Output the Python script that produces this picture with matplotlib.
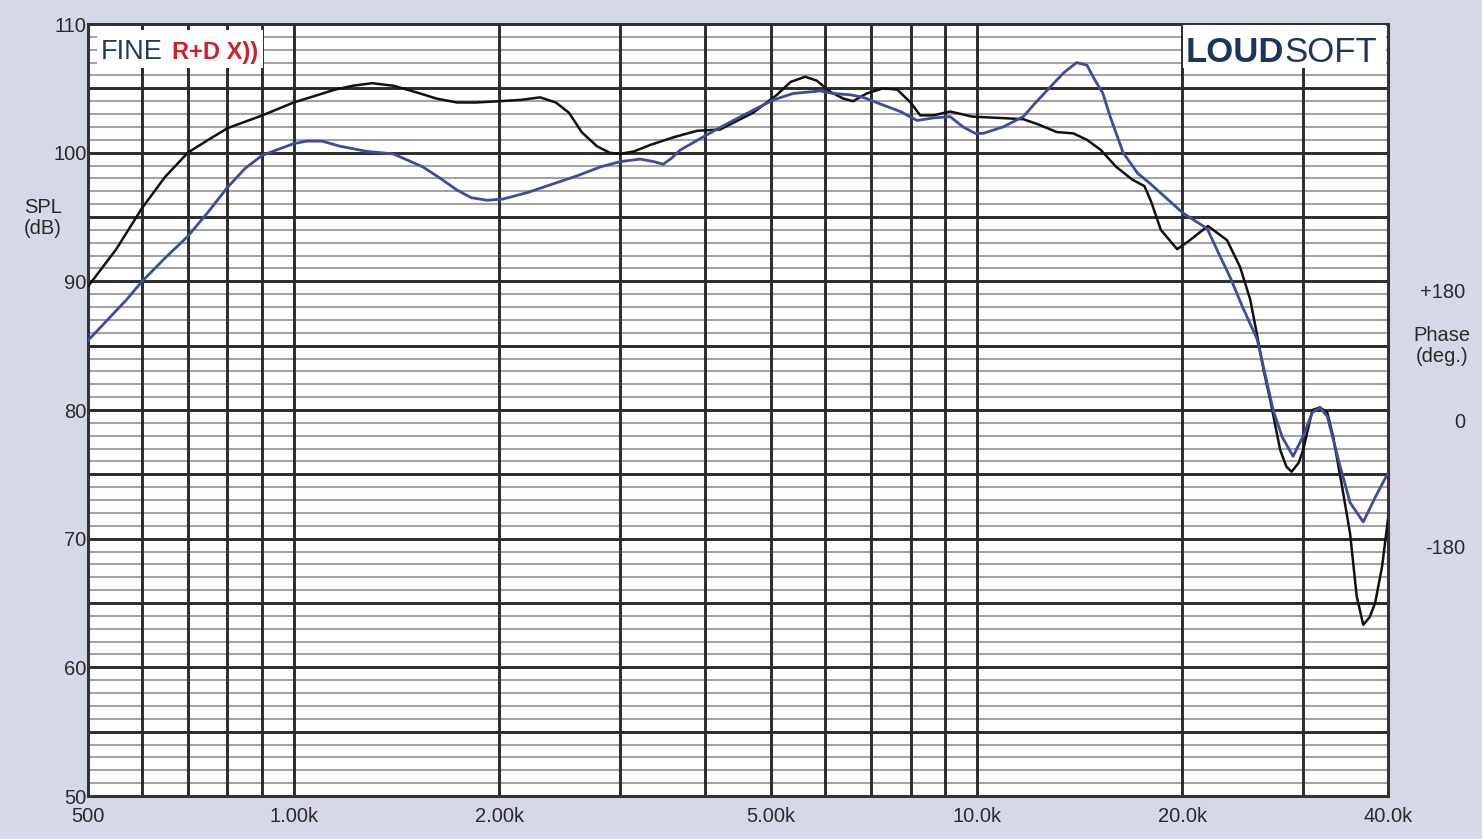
import matplotlib
matplotlib.use("Agg")
import matplotlib.pyplot as plt
from matplotlib.patches import Rectangle
from matplotlib.text import Annotation

plt.rcParams['font.family'] = ['Liberation Sans', 'DejaVu Sans']

# SPL response, black curve (Hz, dB)
black_hz = [500, 550, 600, 648, 700, 750, 800, 900, 1000, 1150, 1220, 1303,
            1400, 1510, 1620, 1734, 1850, 2000, 2150, 2295, 2420, 2530, 2640,
            2780, 2900, 3005, 3150, 3327, 3600, 3897, 4210, 4705, 5100, 5340,
            5608, 5830, 6120, 6380, 6590, 6900, 7293, 7650, 8000, 8266, 8640,
            9144, 9850, 10800, 11700, 12300, 13100, 13845, 14500, 15200, 16000,
            16900, 17600, 18000, 18600, 19650, 20400, 21800, 23250, 24300,
            25135, 25735, 26300, 26885, 27810, 28400, 28900, 29600, 30050,
            31000, 31800, 32600, 33250, 34200, 35200, 36000, 36800, 37600,
            38300, 39200, 40000]
black_db = [89.6, 92.5, 95.7, 98.1, 100.0, 101.0, 101.9, 102.9, 103.9, 104.9,
            105.2, 105.4, 105.2, 104.7, 104.2, 103.9, 103.9, 104.0, 104.1, 104.3,
            103.9, 103.1, 101.6, 100.5, 100.0, 99.9, 100.1, 100.6, 101.2, 101.7,
            101.8, 103.1, 104.5, 105.5, 105.9, 105.6, 104.7, 104.2, 104.0, 104.6,
            105.0, 104.9, 103.9, 102.9, 102.9, 103.2, 102.8, 102.7, 102.6, 102.2,
            101.6, 101.5, 101.0, 100.2, 98.9, 97.9, 97.4, 96.2, 94.0, 92.5, 93.1,
            94.3, 93.2, 91.1, 88.6, 85.8, 83.1, 80.8, 76.9, 75.6, 75.2, 75.9,
            76.9, 80.0, 80.2, 79.8, 77.9, 74.3, 70.4, 65.5, 63.3, 63.9, 65.0,
            67.8, 71.5]

# SPL response, blue curve (Hz, dB)
blue_hz = [500, 570, 600, 648, 700, 750, 800, 850, 900, 1000, 1046, 1100, 1169,
           1280, 1400, 1545, 1640, 1734, 1820, 1920, 2026, 2200, 2375, 2600,
           2815, 3005, 3215, 3370, 3477, 3580, 3680, 4030, 4400, 4705, 5035,
           5385, 5897, 6162, 6527, 6819, 7293, 7727, 8180, 8637, 9144, 9550,
           9946, 10220, 10930, 11700, 12200, 12810, 13400, 14000, 14500, 14800,
           15300, 15680, 16380, 17200, 17940, 20050, 21745, 22500, 23500, 24500,
           25735, 27165, 28000, 29050, 30000, 31000, 31800, 32600, 34050, 35200,
           36800, 38300, 40000]
blue_db = [85.4, 88.6, 90.0, 91.8, 93.5, 95.4, 97.3, 98.8, 99.8, 100.7, 100.9,
           100.9, 100.5, 100.1, 99.9, 98.9, 98.0, 97.1, 96.5, 96.3, 96.4, 96.9,
           97.5, 98.2, 98.9, 99.3, 99.5, 99.3, 99.1, 99.6, 100.2, 101.4, 102.5,
           103.3, 104.1, 104.6, 104.8, 104.6, 104.5, 104.3, 103.7, 103.2, 102.5,
           102.7, 102.8, 102.0, 101.5, 101.5, 102.0, 102.8, 103.9, 105.1, 106.2,
           107.0, 106.8, 105.9, 104.6, 102.8, 100.0, 98.4, 97.6, 95.3, 94.1, 92.4,
           90.3, 88.0, 85.5, 80.0, 77.9, 76.4, 77.9, 79.8, 80.2, 79.5, 75.6, 72.8,
           71.3, 73.2, 75.1]

x_ticks = [500, 1000, 2000, 5000, 10000, 20000, 40000]
x_labels = ['500', '1.00k', '2.00k', '5.00k', '10.0k', '20.0k', '40.0k']
y_ticks = [50, 60, 70, 80, 90, 100, 110]
grid_hz = [600, 700, 800, 900, 1000, 2000, 3000, 4000, 5000, 6000, 7000,
           8000, 9000, 10000, 20000, 30000]

W, H = 1482, 839
bg = '#d5d9e7'
txt = '#2a2a2a'
fig = plt.figure(figsize=(W / 100, H / 100), dpi=100, facecolor=bg)
ax = fig.add_axes([88 / W, 1 - 796 / H, 1300 / W, 772 / H])
ax.set_xscale('log')
ax.set_xlim(500, 40000)
ax.set_ylim(50, 110)

# grid: thin grey every 1 dB, dark every 5 dB, dark verticals
for v in range(51, 110):
    if v % 5:
        ax.axhline(v, color='#a3a3a3', lw=1.5, zorder=1)
for v in range(55, 110, 5):
    ax.axhline(v, color='#2b2b2b', lw=2.1, zorder=2)
for f in grid_hz:
    ax.axvline(f, color='#2b2b2b', lw=2.1, zorder=2)

ax.plot(black_hz, black_db, color='#111111', lw=1.8, zorder=4,
        solid_joinstyle='round')
ax.plot(blue_hz, blue_db, color='#3d4c9e', lw=2.0, zorder=4,
        solid_joinstyle='round')

for s in ax.spines.values():
    s.set_color('#333333')
    s.set_linewidth(2.2)

ax.set_xticks(x_ticks)
ax.set_xticklabels(x_labels)
ax.xaxis.set_minor_locator(matplotlib.ticker.NullLocator())
ax.set_yticks(y_ticks)
ax.tick_params(length=0, labelsize=14.5, colors=txt)
ax.tick_params(axis='x', pad=8)
ax.tick_params(axis='y', pad=1)


def px(x, y):
    return x / W, 1 - y / H


# thin lighter band along the bottom edge
fig.patches.append(Rectangle((0, 0), 1, 4 / H, transform=fig.transFigure,
                             facecolor='#cfe0f0', edgecolor='none', zorder=0))

# logos with white boxes
fig.patches.append(Rectangle(px(97, 68), 166 / W, 38 / H, transform=fig.transFigure,
                             facecolor='white', edgecolor='none', zorder=5))
fig.patches.append(Rectangle(px(1183, 68), 203 / W, 43 / H, transform=fig.transFigure,
                             facecolor='white', edgecolor='none', zorder=5))
fig.text(*px(101, 59), 'FINE', fontsize=19.5, color='#1f3a64', zorder=6)
fig.text(*px(172, 59), 'R+D X))', fontsize=17, color='#d0202e', fontweight='bold',
         zorder=6)
loud = fig.text(*px(1186, 62), 'LOUD', fontsize=25, color='#1a365f',
                fontweight='bold', zorder=6)
fig.add_artist(Annotation('SOFT', xy=(1, 0), xycoords=loud, va='bottom',
                          fontsize=25, color='#1a365f', zorder=6))

# axis captions
fig.text(*px(43, 218), 'SPL\n(dB)', fontsize=14.5, color=txt, ha='center',
         va='center', linespacing=1.15)
fig.text(*px(1465, 293), '+180', fontsize=14.5, color=txt, ha='right', va='center')
fig.text(*px(1442, 346), 'Phase\n(deg.)', fontsize=14.5, color=txt, ha='center',
         va='center', linespacing=1.15)
fig.text(*px(1465, 422), '0', fontsize=14.5, color=txt, ha='right', va='center')
fig.text(*px(1465, 549), '-180', fontsize=14.5, color=txt, ha='right', va='center')

fig.savefig('out.png', dpi=100, facecolor=bg)
